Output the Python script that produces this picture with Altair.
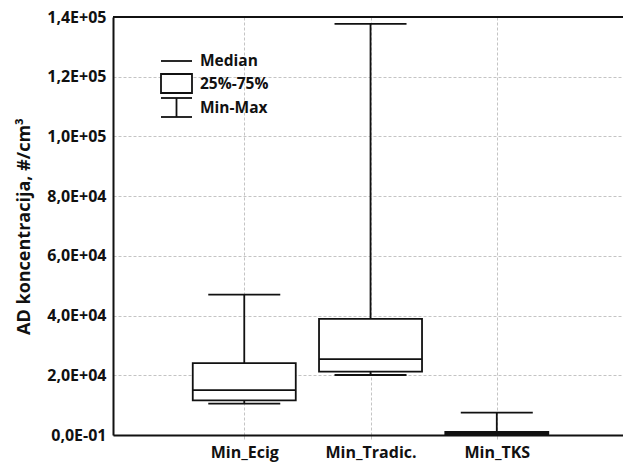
import altair as alt
import pandas as pd

categories = ["Min_Ecig", "Min_Tradic.", "Min_TKS"]
mins = [10500, 20100, 0]
q1s = [11600, 21200, 300]
medians = [15000, 25400, 600]
q3s = [24100, 38900, 1000]
maxs = [47000, 137700, 7500]

tick_values = [0, 20000, 40000, 60000, 80000, 100000, 120000, 140000]
tick_labels = ["0,0E-01", "2,0E+04", "4,0E+04", "6,0E+04", "8,0E+04", "1,0E+05", "1,2E+05", "1,4E+05"]

legend_labels = ["Median", "25%-75%", "Min-Max"]

df = pd.DataFrame({
    "cat": categories,
    "pos": list(range(1, len(categories) + 1)),
    "min": mins, "q1": q1s, "median": medians, "q3": q3s, "max": maxs,
})

FONT = "Open Sans"
DARK = "#111111"
LW = 1.8

cat_expr = "[" + ",".join(f"'{c}'" for c in categories) + "]"
lab_expr = "[" + ",".join(f"'{t}'" for t in tick_labels) + "]"

x_enc = alt.X(
    "pos:Q",
    scale=alt.Scale(domain=[0, 3.96], nice=False, zero=False),
    axis=alt.Axis(
        values=[1, 2, 3],
        labelExpr=f"{cat_expr}[datum.value - 1]",
        title=None,
        grid=True, gridColor="#c4c4c4", gridDash=[3, 2], gridWidth=1,
        domainColor=DARK, domainWidth=2,
        tickColor="#c4c4c4", tickSize=4, tickWidth=1,
        labelFont=FONT, labelFontSize=16, labelFontWeight="bold", labelColor="#111",
        labelPadding=5,
    ),
)

y_scale = alt.Scale(domain=[0, 140000], nice=False)
y_axis = alt.Axis(
    values=tick_values,
    labelExpr=f"{lab_expr}[round(datum.value / 20000)]",
    title="AD koncentracija, #/cm³",
    titleFont=FONT, titleFontSize=18, titleFontWeight="bold", titleColor="#111",
    titlePadding=13,
    grid=True, gridColor="#c4c4c4", gridDash=[3, 2], gridWidth=1,
    domainColor=DARK, domainWidth=2,
    ticks=False,
    labelFont=FONT, labelFontSize=16, labelFontWeight="bold", labelColor="#111",
    labelPadding=7,
)

base = alt.Chart(df)

whisker = base.mark_rule(color=DARK, strokeWidth=LW).encode(
    x=x_enc,
    y=alt.Y("min:Q", scale=y_scale, axis=y_axis),
    y2="max:Q",
)
box = base.mark_bar(size=103, fill="white", stroke=DARK, strokeWidth=LW, opacity=1).encode(
    x="pos:Q", y="q1:Q", y2="q3:Q"
)
median = base.mark_tick(size=103, thickness=1.8, color=DARK, opacity=1, orient="horizontal").encode(
    x="pos:Q", y="median:Q"
)
cap_min = base.mark_tick(size=72, thickness=1.8, color=DARK, opacity=1, orient="horizontal").encode(
    x="pos:Q", y="min:Q"
)
cap_max = base.mark_tick(size=72, thickness=1.8, color=DARK, opacity=1, orient="horizontal").encode(
    x="pos:Q", y="max:Q"
)

top_line = alt.Chart(pd.DataFrame({"v": [140000]})).mark_rule(color=DARK, strokeWidth=2).encode(
    y=alt.Y("v:Q", scale=y_scale)
)

# Legend (drawn manually)
leg_x0, leg_x1 = 48, 79
leg_mid = (leg_x0 + leg_x1) / 2
one = pd.DataFrame({"a": [0]})
lm = alt.Chart(one).mark_rule(color=DARK, strokeWidth=LW).encode(
    x=alt.value(leg_x0), x2=alt.value(leg_x1), y=alt.value(44)
)
lbox = alt.Chart(one).mark_rect(fill="white", stroke=DARK, strokeWidth=LW).encode(
    x=alt.value(leg_x0), x2=alt.value(leg_x1), y=alt.value(57), y2=alt.value(76)
)
lcap1 = alt.Chart(one).mark_rule(color=DARK, strokeWidth=LW).encode(
    x=alt.value(leg_x0), x2=alt.value(leg_x1), y=alt.value(81)
)
lcap2 = alt.Chart(one).mark_rule(color=DARK, strokeWidth=LW).encode(
    x=alt.value(leg_x0), x2=alt.value(leg_x1), y=alt.value(100)
)
lvert = alt.Chart(one).mark_rule(color=DARK, strokeWidth=LW).encode(
    x=alt.value(leg_mid), y=alt.value(81), y2=alt.value(100)
)
ltext = alt.Chart(pd.DataFrame({"t": legend_labels, "yy": [44, 67, 91]})).mark_text(
    align="left", baseline="middle", font=FONT, fontSize=15.5, fontWeight="bold", color="#111"
).encode(
    x=alt.value(87), y=alt.Y("yy:Q", scale=None), text="t:N"
)

chart = alt.layer(
    whisker, box, median, cap_min, cap_max, top_line,
    lm, lbox, lcap1, lcap2, lvert, ltext,
).properties(
    width=510, height=418,
    autosize=alt.AutoSizeParams(type="none"),
    padding={"left": 113, "top": 17, "right": 0, "bottom": 35},
).configure_view(stroke=None).configure(background="white")

chart.save("out.html", embed_options={"renderer": "svg", "actions": False})
